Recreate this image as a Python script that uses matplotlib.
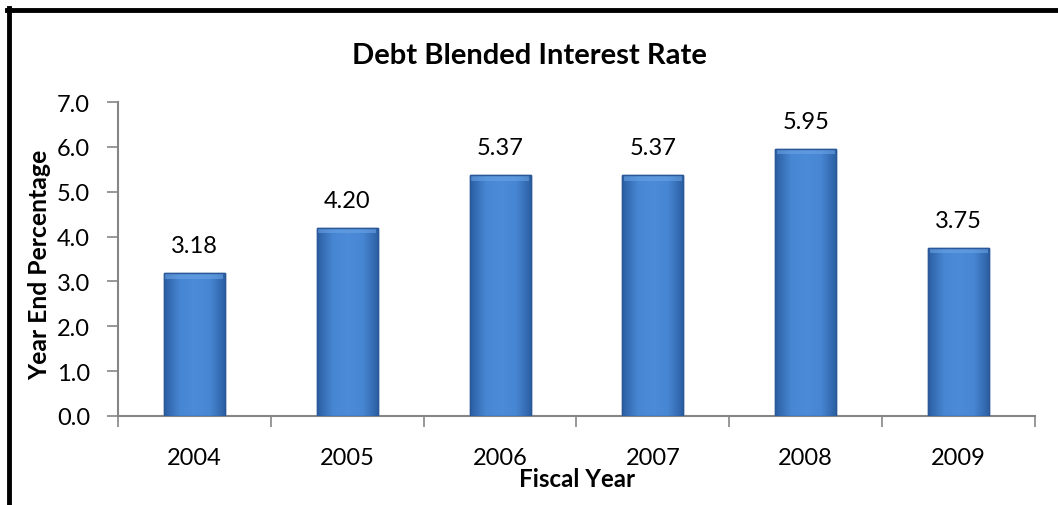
import matplotlib.pyplot as plt
import numpy as np
from matplotlib.colors import LinearSegmentedColormap
from matplotlib.lines import Line2D

years = ["2004", "2005", "2006", "2007", "2008", "2009"]
rates = [3.18, 4.20, 5.37, 5.37, 5.95, 3.75]
yticks = [0.0, 1.0, 2.0, 3.0, 4.0, 5.0, 6.0, 7.0]

plt.rcParams["font.family"] = ["Lato", "DejaVu Sans"]

W, H = 1058, 506
fig = plt.figure(figsize=(W / 100, H / 100), dpi=100)
ax = fig.add_axes([118 / W, 1 - 417 / H, (1035 - 118) / W, (417 - 103) / H])

x = np.arange(len(years))
width = 0.4
bars = ax.bar(x, rates, width=width, color="#3f7fcc", edgecolor="#2d5f9e",
              linewidth=1.0, zorder=2)

# bevel-ish horizontal gradient on each bar
cmap = LinearSegmentedColormap.from_list(
    "bev", ["#2c5fa3", "#4786d2", "#4b8bd8", "#4786d2", "#2c5fa3"])
grad = np.linspace(0, 1, 64).reshape(1, -1)
for b in bars:
    x0, w, h = b.get_x(), b.get_width(), b.get_height()
    im = ax.imshow(grad, cmap=cmap, aspect="auto", extent=[x0, x0 + w, 0, h],
                   zorder=3)
    im.set_clip_path(b)
    # lighter top cap
    ax.fill_between([x0 + 0.01, x0 + w - 0.01], h - 0.12, h - 0.02,
                    color="#6aa3e6", alpha=0.6, zorder=4, linewidth=0)
    ax.bar(x0 + w / 2, h, width=w, fill=False, edgecolor="#2a5898",
           linewidth=1.0, zorder=5)

for xi, v in zip(x, rates):
    ax.text(xi, v + 0.38, f"{v:.2f}", ha="center", va="bottom", fontsize=17,
            color="black")

ax.set_xlim(-0.5, len(years) - 0.5)
ax.set_ylim(0, 7.0)
ax.set_yticks(yticks)
ax.set_yticklabels([f"{t:.1f}" for t in yticks], fontsize=17)
ax.set_xticks(x)
ax.set_xticklabels(years, fontsize=17)
ax.tick_params(axis="x", length=0, pad=22)
ax.set_xticks(np.arange(-0.5, len(years), 1.0), minor=True)
ax.tick_params(axis="x", which="minor", length=8, color="#868686", width=1.2)
ax.tick_params(axis="y", length=8, color="#868686", width=1.2, pad=12)

for s in ["top", "right"]:
    ax.spines[s].set_visible(False)
for s in ["left", "bottom"]:
    ax.spines[s].set_color("#868686")
    ax.spines[s].set_linewidth(1.5)

fig.text(529 / W, 1 - 56 / H, "Debt Blended Interest Rate", fontsize=21,
         fontweight="bold", ha="center", va="center")
fig.text(577 / W, 1 - 480 / H, "Fiscal Year", fontsize=17.4,
         fontweight="bold", ha="center", va="center")
fig.text(40 / W, 1 - 265 / H, "Year End Percentage", fontsize=17.8,
         fontweight="bold", ha="center", va="center", rotation=90)

# outer frame (left and top only visible)
fig.add_artist(Line2D([9 / W, 9 / W], [0, 1 - 9 / H],
                      transform=fig.transFigure, color="black", linewidth=3.5))
fig.add_artist(Line2D([7 / W, 1], [1 - 11 / H, 1 - 11 / H],
                      transform=fig.transFigure, color="black", linewidth=3.5))

fig.savefig("out.png", dpi=100)
